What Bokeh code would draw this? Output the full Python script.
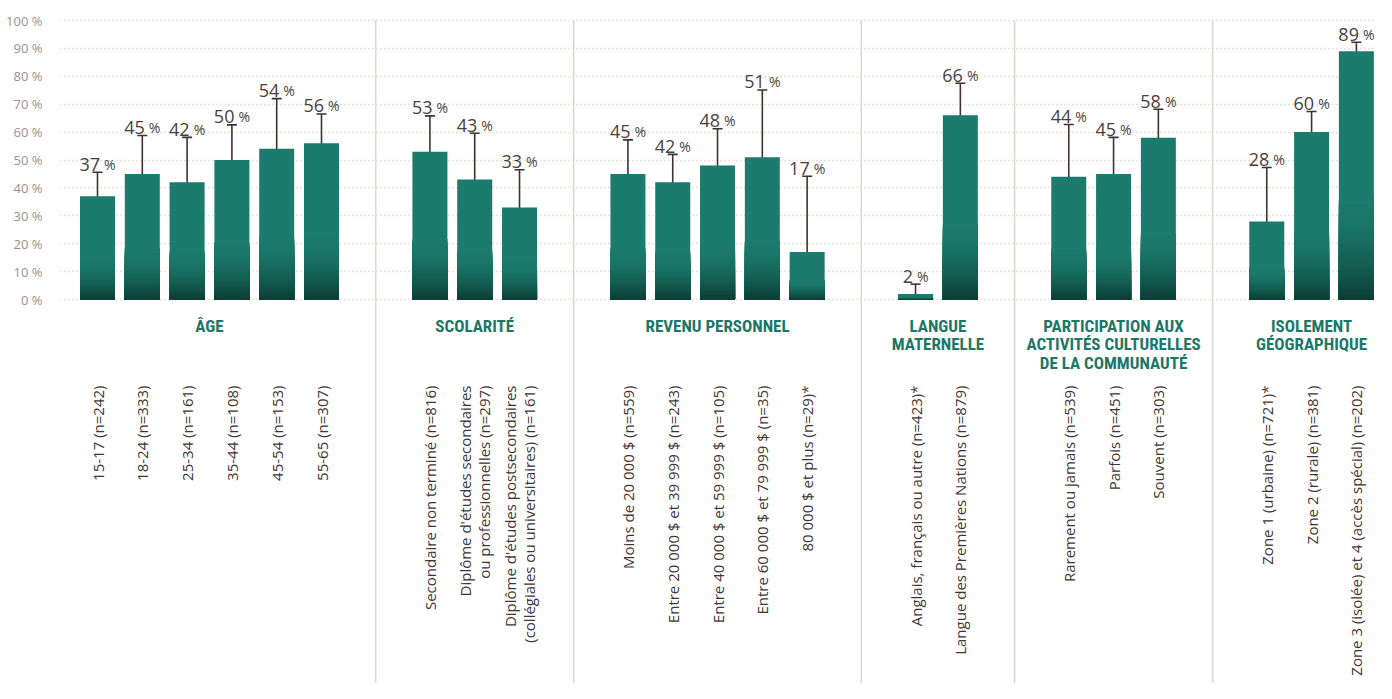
import numpy as np
from bokeh.plotting import figure
from bokeh.models import ColumnDataSource, Range1d, FixedTicker, Whisker, TeeHead, CustomJSTickFormatter
from bokeh.core.properties import value
from bokeh.embed import file_html
from bokeh.resources import INLINE

# ---------------- data ----------------
group_titles = ["ÂGE", "SCOLARITÉ", "REVENU PERSONNEL", "LANGUE\nMATERNELLE",
                "PARTICIPATION AUX\nACTIVITÉS CULTURELLES\nDE LA COMMUNAUTÉ",
                "ISOLEMENT\nGÉOGRAPHIQUE"]

age_labels = ["15-17 (n=242)", "18-24 (n=333)", "25-34 (n=161)", "35-44 (n=108)",
              "45-54 (n=153)", "55-65 (n=307)"]
age_values = [37, 45, 42, 50, 54, 56]
age_low = [28.6, 30.1, 26.3, 38.0, 34.1, 44.9]
age_high = [45.6, 58.8, 58.1, 62.6, 72.0, 66.5]

scol_labels = ["Secondaire non terminé (n=816)",
               "Diplôme d'études secondaires\nou professionnelles (n=297)",
               "Diplôme d'études postsecondaires\n(collégiales ou universitaires) (n=161)"]
scol_values = [53, 43, 33]
scol_low = [39.5, 26.2, 21.7]
scol_high = [65.8, 59.6, 46.5]

rev_labels = ["Moins de 20 000 $ (n=559)", "Entre 20 000 $ et 39 999 $ (n=243)",
              "Entre 40 000 $ et 59 999 $ (n=105)", "Entre 60 000 $ et 79 999 $ (n=35)",
              "80 000 $ et plus (n=29)*"]
rev_values = [45, 42, 48, 51, 17]
rev_low = [32.4, 33.2, 34.2, 26.3, 4.7]
rev_high = [57.2, 52.0, 61.2, 75.1, 44.2]

lang_labels = ["Anglais, français ou autre (n=423)*", "Langue des Premières Nations (n=879)"]
lang_values = [2, 66]
lang_low = [0.7, 52.6]
lang_high = [5.5, 77.5]

part_labels = ["Rarement ou jamais (n=539)", "Parfois (n=451)", "Souvent (n=303)"]
part_values = [44, 45, 58]
part_low = [26.3, 32.5, 45.8]
part_high = [62.7, 58.1, 68.2]

iso_labels = ["Zone 1 (urbaine) (n=721)*", "Zone 2 (rurale) (n=381)",
              "Zone 3 (isolée) et 4 (accès spécial) (n=202)"]
iso_values = [28, 60, 89]
iso_low = [14.0, 51.0, 84.2]
iso_high = [47.3, 67.4, 92.2]

y_ticks = [0, 10, 20, 30, 40, 50, 60, 70, 80, 90, 100]

groups = [
    (age_labels, age_values, age_low, age_high),
    (scol_labels, scol_values, scol_low, scol_high),
    (rev_labels, rev_values, rev_low, rev_high),
    (lang_labels, lang_values, lang_low, lang_high),
    (part_labels, part_values, part_low, part_high),
    (iso_labels, iso_values, iso_low, iso_high),
]

# ---------------- layout / style ----------------
W, H = 1376, 683
FRAME_LEFT = 60
SLOT_PX = 44.8
GROUP_GAP = 2.42
BAR_W = 35.0 / SLOT_PX
PX_PER_PCT = 2.79
ZERO_PX = 299.0   # figure px of 0 %

TEAL = (27, 123, 108)
DARK = (12, 62, 54)
ERR_COLOR = "#3d3332"
VAL_COLOR = "#4a3f3e"
LAB_COLOR = "#3e3636"
HEAD_COLOR = "#1b7868"
TICK_COLOR = "#9c918e"
GRID_COLOR = "#cbc4c0"
SEP_COLOR = "#ddd7d3"
FONT = "Open Sans"
HEAD_FONT = "Liberation Sans Narrow, Roboto Condensed, DejaVu Sans Condensed, Roboto"

# positions
xs, vals, lows, highs, labels, centers, seps = [], [], [], [], [], [], []
start = 0.0
for gi, (lab, v, lo, hi) in enumerate(groups):
    pos = [start + i for i in range(len(v))]
    xs += pos; vals += v; lows += lo; highs += hi; labels += lab
    centers.append(sum(pos) / len(pos))
    nxt = pos[-1] + GROUP_GAP
    if gi < len(groups) - 1:
        seps.append((pos[-1] + nxt) / 2)
    start = nxt

x0 = -37.0 / SLOT_PX
x1 = x0 + (W - FRAME_LEFT) / SLOT_PX
y_top = ZERO_PX / PX_PER_PCT
y_bot = -(H - ZERO_PX) / PX_PER_PCT

def py(fig_y):
    """data y for a figure-pixel y"""
    return (ZERO_PX - fig_y) / PX_PER_PCT

p = figure(width=W, height=H, x_range=Range1d(x0, x1), y_range=Range1d(y_bot, y_top),
           output_backend="svg", toolbar_location=None, x_axis_location=None,
           min_border_left=FRAME_LEFT, min_border_right=0, min_border_top=0, min_border_bottom=0)
p.outline_line_color = None
p.background_fill_color = "white"
p.border_fill_color = "white"
p.xgrid.visible = False

p.ygrid.ticker = FixedTicker(ticks=y_ticks)
p.ygrid.grid_line_color = GRID_COLOR
p.ygrid.grid_line_dash = "1 3"
p.ygrid.grid_line_width = 1.3

ax = p.yaxis[0]
ax.ticker = FixedTicker(ticks=y_ticks)
ax.formatter = CustomJSTickFormatter(code="return tick + ' %';")
ax.axis_line_color = None
ax.major_tick_line_color = None
ax.minor_tick_line_color = None
ax.major_label_standoff = 12
ax.major_label_text_font = FONT
ax.major_label_text_font_size = "13px"
ax.major_label_text_color = TICK_COLOR

# separators
p.segment(x0=seps, y0=[100] * len(seps), x1=seps, y1=[y_bot] * len(seps),
          line_color=SEP_COLOR, line_width=1.6)

# bars: base + gradient toward the bottom
src = ColumnDataSource(dict(x=xs, v=vals, lo=lows, hi=highs))
p.vbar(x="x", top="v", bottom=0, width=BAR_W, source=src,
       fill_color="#%02x%02x%02x" % TEAL, line_color=None)

N = 40
GF = 0.42
gl, gr, gt, gc = [], [], [], []
for k in range(1, N):
    t = (k / (N - 1)) ** 1.8
    col = tuple(int(round(a + (b - a) * t)) for a, b in zip(TEAL, DARK))
    for x, v in zip(xs, vals):
        gl.append(x - BAR_W / 2); gr.append(x + BAR_W / 2)
        gt.append(v * GF * (1 - k / N)); gc.append("#%02x%02x%02x" % col)
p.quad(left=gl, right=gr, bottom=0, top=gt, fill_color=gc, line_color=None)

# error bars
p.add_layout(Whisker(source=src, base="x", upper="hi", lower="lo",
                     line_color=ERR_COLOR, line_width=1.6,
                     upper_head=TeeHead(size=10, line_color=ERR_COLOR, line_width=1.6),
                     lower_head=TeeHead(size=10, line_color=ERR_COLOR, line_width=1.6)))

# value labels (number + smaller %)
num_txt = [str(v) for v in vals]
num_w = [10.3 * len(s) for s in num_txt]
tot_w = [w + 4 + 11.5 for w in num_w]
num_off = [-tw / 2 + w for w, tw in zip(num_w, tot_w)]
pct_off = [o + 4 for o in num_off]
lab_y = [h + 8 / PX_PER_PCT for h in highs]
vsrc = ColumnDataSource(dict(x=xs, y=lab_y, t=num_txt, no=num_off, po=pct_off,
                             pc=["%"] * len(xs)))
p.text(x="x", y="y", text="t", x_offset="no", source=vsrc, text_align="right",
       text_baseline="alphabetic", text_font=value(FONT), text_font_size="18px",
       text_color=VAL_COLOR)
p.text(x="x", y="y", text="pc", x_offset="po", source=vsrc, text_align="left",
       text_baseline="alphabetic", text_font=value(FONT), text_font_size="14px",
       text_color=VAL_COLOR)

# group headings
p.text(x=centers, y=[py(315)] * len(centers), text=group_titles, text_align="center",
       text_baseline="top", text_font=value(HEAD_FONT), text_font_style="bold",
       text_font_size="17px", text_color=HEAD_COLOR, text_line_height=0.93)

# category labels (rotated)
p.text(x=xs, y=[py(385)] * len(xs), text=labels, angle=np.pi / 2, text_align="right",
       text_baseline="middle", text_font=value(FONT), text_font_size="15px",
       text_color=LAB_COLOR, text_line_height=0.95)

open("out.html", "w").write(file_html(p, INLINE))
